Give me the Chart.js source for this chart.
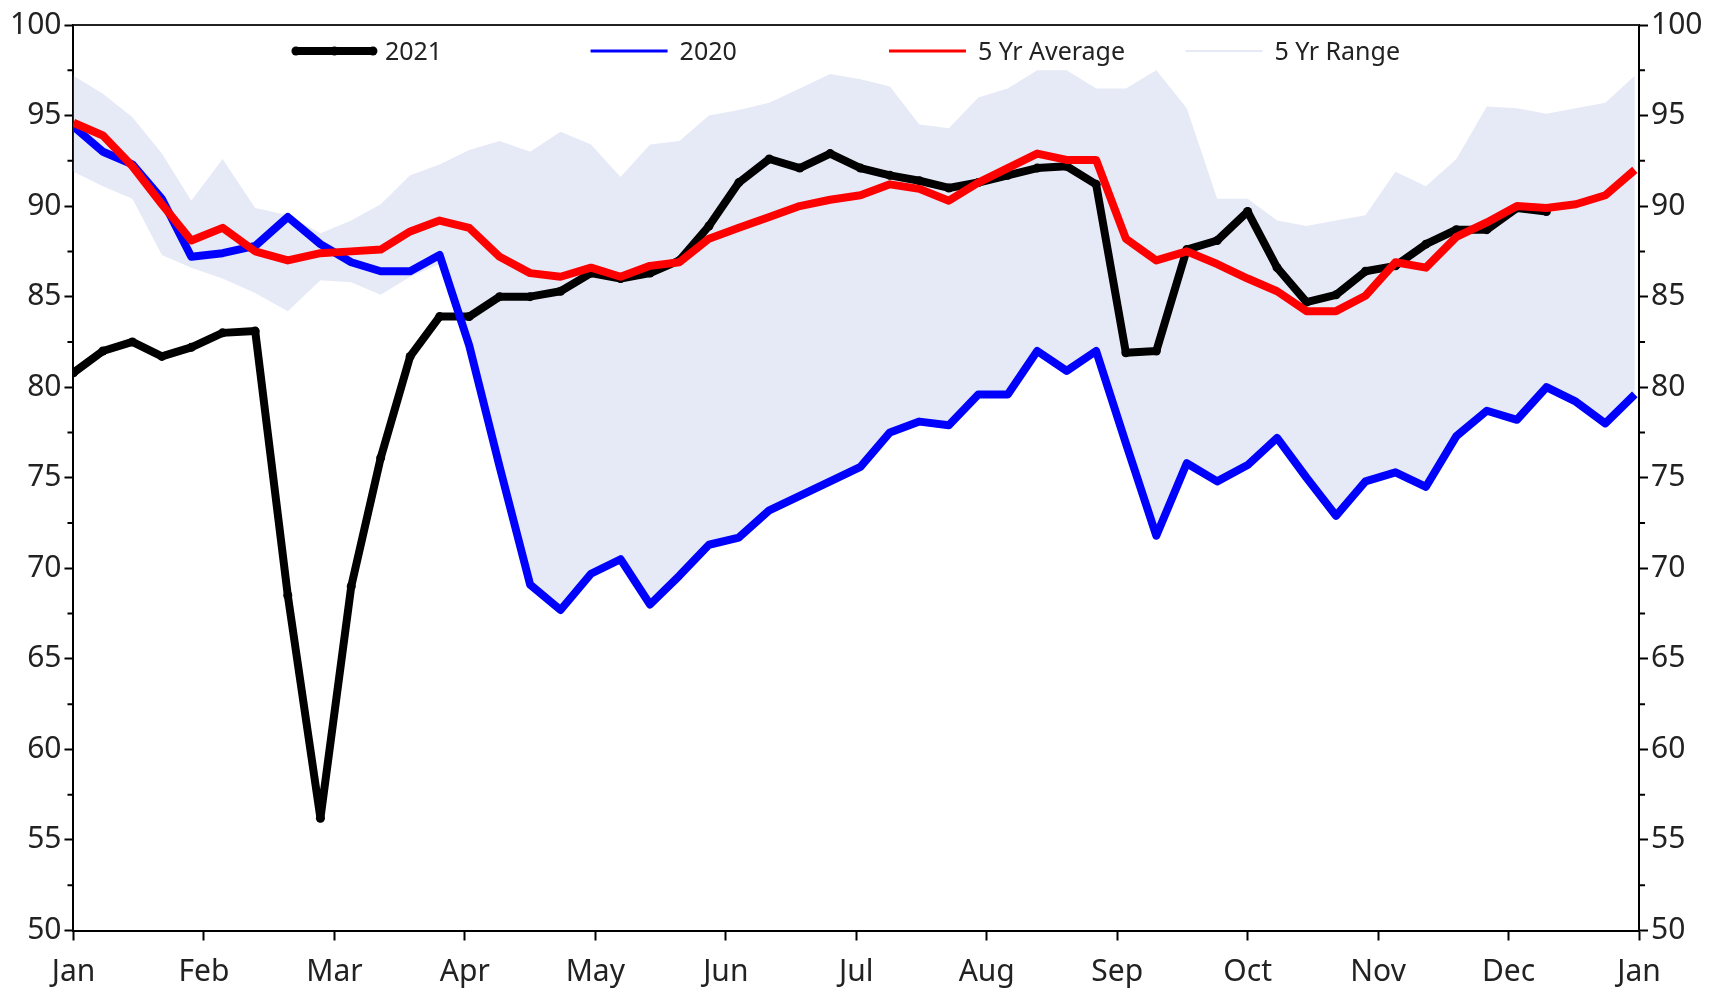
<!DOCTYPE html>
<html>
<head>
<meta charset="utf-8">
<title>2021 vs 2020 vs 5 Yr</title>
<script src="https://cdn.jsdelivr.net/npm/chart.js@4.4.1/dist/chart.umd.min.js"></script>
<style>
  html, body { margin: 0; padding: 0; background: #ffffff; }
  #chart { display: block; }
</style>
</head>
<body>
<canvas id="chart" width="1723" height="990"></canvas>
<script>
// x axis labels, one per month (the year wraps back to Jan)
const monthLabels = ['Jan', 'Feb', 'Mar', 'Apr', 'May', 'Jun', 'Jul', 'Aug', 'Sep', 'Oct', 'Nov', 'Dec', 'Jan'];
const daysInMonth = [31, 28, 31, 30, 31, 30, 31, 31, 30, 31, 30, 31];

// weekly values, week 0 (Jan 1) .. week 52 (Dec 31)
const values2021 = [
    80.8, 82.0, 82.5, 81.7, 82.2, 83.0, 83.1, 68.5, 56.2, 69.0,
    76.1, 81.7, 83.9, 83.9, 85.0, 85.0, 85.3, 86.3, 86.0, 86.3,
    87.0, 88.9, 91.3, 92.6, 92.1, 92.9, 92.1, 91.7, 91.4, 91.0,
    91.3, 91.7, 92.1, 92.2, 91.2, 81.9, 82.0, 87.6, 88.1, 89.7,
    86.6, 84.7, 85.1, 86.4, 86.7, 87.9, 88.7, 88.7, 89.9, 89.7,
    null, null, null
];
const values2020 = [
    94.4, 93.0, 92.3, 90.4, 87.2, 87.4, 87.8, 89.4, 87.9, 86.9,
    86.4, 86.4, 87.3, 82.3, 75.6, 69.1, 67.7, 69.7, 70.5, 68.0,
    69.6, 71.3, 71.7, 73.2, 74.0, 74.8, 75.6, 77.5, 78.1, 77.9,
    79.6, 79.6, 82.0, 80.9, 82.0, 76.9, 71.8, 75.8, 74.8, 75.7,
    77.2, 75.0, 72.9, 74.8, 75.3, 74.5, 77.3, 78.7, 78.2, 80.0,
    79.2, 78.0, 79.6
];
const avg5yr = [
    94.6, 93.9, 92.2, 90.1, 88.1, 88.8, 87.5, 87.0, 87.4, 87.5,
    87.6, 88.6, 89.2, 88.8, 87.2, 86.3, 86.1, 86.6, 86.1, 86.7,
    86.9, 88.2, 88.8, 89.4, 90.0, 90.35, 90.6, 91.2, 90.95, 90.3,
    91.3, 92.1, 92.9, 92.55, 92.55, 88.2, 87.0, 87.5, 86.8, 86.0,
    85.3, 84.2, 84.2, 85.05, 86.9, 86.6, 88.3, 89.1, 90.0, 89.9,
    90.1, 90.6, 92.0
];
const range5yrHigh = [
    97.2, 96.2, 94.9, 92.9, 90.3, 92.6, 89.9, 89.5, 88.5, 89.2,
    90.1, 91.7, 92.3, 93.1, 93.6, 93.0, 94.1, 93.4, 91.6, 93.4,
    93.6, 95.0, 95.3, 95.7, 96.5, 97.3, 97.0, 96.6, 94.5, 94.3,
    96.0, 96.5, 97.5, 97.5, 96.5, 96.5, 97.5, 95.4, 90.4, 90.4,
    89.2, 88.9, 89.2, 89.5, 91.9, 91.1, 92.6, 95.5, 95.4, 95.1,
    95.4, 95.7, 97.2
];
const range5yrLow = [
    91.9, 91.1, 90.4, 87.3, 86.6, 86.0, 85.2, 84.2, 85.9, 85.8,
    85.1, 86.1, 86.8, 82.3, 75.6, 69.1, 67.7, 69.7, 70.5, 68.0,
    69.6, 71.3, 71.7, 73.2, 74.0, 74.8, 75.6, 77.5, 78.1, 77.9,
    79.6, 79.6, 82.0, 80.9, 82.0, 76.9, 71.8, 75.8, 74.8, 75.7,
    77.2, 75.0, 72.9, 74.8, 75.3, 74.5, 77.3, 78.7, 78.2, 80.0,
    79.2, 78.0, 79.6
];

const rangeColor = '#e6e9f6';
const textColor = '#222222';
const fontFamily = '"Noto Sans", "Open Sans", sans-serif';

// week index -> position on the month axis (month number + fraction of that month)
function weekToMonthPos(week) {
    let day = week * 7;
    let m = 0;
    while (m < daysInMonth.length - 1 && day >= daysInMonth[m]) {
        day -= daysInMonth[m];
        m++;
    }
    return m + day / daysInMonth[m];
}

function toPoints(values) {
    return values.map((v, i) => ({ x: weekToMonthPos(i), y: v }));
}

// legend entries drawn inside the plot, one column each
const legendEntries = [
    { label: '2021', color: '#000000', lineWidth: 8, markers: true, col: 0.1421 },
    { label: '2020', color: '#0000ff', lineWidth: 3, markers: false, col: 0.3303 },
    { label: '5 Yr Average', color: '#ff0000', lineWidth: 3, markers: false, col: 0.5209 },
    { label: '5 Yr Range', color: rangeColor, lineWidth: 2, markers: false, col: 0.7103 }
];

const insideLegend = {
    id: 'insideLegend',
    afterDraw(chart) {
        const { ctx, chartArea } = chart;
        const width = chartArea.right - chartArea.left;
        const lineY = chartArea.top + 26;
        ctx.save();
        ctx.font = '25px ' + fontFamily;
        ctx.textBaseline = 'middle';
        ctx.textAlign = 'left';
        legendEntries.forEach(entry => {
            const x0 = chartArea.left + entry.col * width;
            ctx.strokeStyle = entry.color;
            ctx.lineWidth = entry.lineWidth;
            ctx.beginPath();
            ctx.moveTo(x0, lineY);
            ctx.lineTo(x0 + 77, lineY);
            ctx.stroke();
            if (entry.markers) {
                ctx.fillStyle = entry.color;
                [0, 38.5, 77].forEach(dx => {
                    ctx.beginPath();
                    ctx.arc(x0 + dx, lineY, 4.5, 0, Math.PI * 2);
                    ctx.fill();
                });
            }
            ctx.fillStyle = textColor;
            ctx.fillText(entry.label, x0 + 89, lineY + 2);
        });
        ctx.restore();
    }
};

// top frame line and the short minor ticks on both y axes
const axisExtras = {
    id: 'axisExtras',
    afterDraw(chart) {
        const { ctx, chartArea, scales } = chart;
        ctx.save();
        ctx.strokeStyle = '#222222';
        ctx.lineWidth = 2;
        ctx.beginPath();
        ctx.moveTo(chartArea.left, chartArea.top);
        ctx.lineTo(chartArea.right, chartArea.top);
        ctx.stroke();

        ctx.strokeStyle = '#000000';
        ctx.beginPath();
        [scales.y, scales.y2].forEach(scale => {
            const left = scale.position === 'left';
            const edge = left ? chartArea.left : chartArea.right;
            const dir = left ? -1 : 1;
            for (let v = scale.min + 2.5; v < scale.max; v += 5) {
                const py = scale.getPixelForValue(v);
                ctx.moveTo(edge, py);
                ctx.lineTo(edge + dir * 6, py);
            }
        });
        ctx.stroke();
        ctx.restore();
    }
};

function yAxis(position) {
    return {
        position: position,
        min: 50,
        max: 100,
        ticks: {
            stepSize: 5,
            padding: 3,
            color: textColor,
            font: { family: fontFamily, size: 30 }
        },
        grid: {
            drawOnChartArea: false,
            drawTicks: true,
            tickLength: 9,
            tickWidth: 2,
            tickColor: '#000000'
        },
        border: { display: true, color: '#000000', width: 2 }
    };
}

new Chart(document.getElementById('chart'), {
    type: 'line',
    data: {
        datasets: [
            {
                label: '5 Yr Average',
                data: toPoints(avg5yr),
                borderColor: '#ff0000',
                borderWidth: 8,
                pointRadius: 0,
                order: 0
            },
            {
                label: '2020',
                data: toPoints(values2020),
                borderColor: '#0000ff',
                borderWidth: 8,
                pointRadius: 0,
                order: 1
            },
            {
                label: '2021',
                data: toPoints(values2021),
                borderColor: '#000000',
                borderWidth: 8,
                pointRadius: 4.5,
                pointBackgroundColor: '#000000',
                pointBorderWidth: 0,
                order: 2
            },
            {
                label: '5 Yr Range',
                data: toPoints(range5yrHigh),
                borderColor: 'transparent',
                borderWidth: 1,
                backgroundColor: rangeColor,
                pointRadius: 0,
                fill: '+1',
                order: 3
            },
            {
                label: '5 Yr Range low',
                data: toPoints(range5yrLow),
                borderColor: 'transparent',
                borderWidth: 1,
                pointRadius: 0,
                fill: false,
                order: 4
            }
        ]
    },
    options: {
        responsive: false,
        animation: false,
        events: [],
        layout: { padding: { left: 7, right: 17.5, top: 25, bottom: 0 } },
        elements: {
            line: { tension: 0, borderJoinStyle: 'round', borderCapStyle: 'butt' }
        },
        datasets: { line: { clip: 0 } },
        plugins: {
            legend: { display: false },
            tooltip: { enabled: false }
        },
        scales: {
            x: {
                type: 'linear',
                min: 0,
                max: 12,
                ticks: {
                    stepSize: 1,
                    autoSkip: false,
                    maxRotation: 0,
                    padding: 14,
                    color: textColor,
                    font: { family: fontFamily, size: 30 },
                    callback: value => monthLabels[value]
                },
                grid: {
                    drawOnChartArea: false,
                    drawTicks: true,
                    tickLength: 10,
                    tickWidth: 2,
                    tickColor: '#000000'
                },
                border: { display: true, color: '#000000', width: 2 },
                // keep the plot bottom where the reference has it
                afterFit: scale => { scale.height = 59.5; }
            },
            y: yAxis('left'),
            y2: yAxis('right')
        }
    },
    plugins: [insideLegend, axisExtras]
});
</script>
</body>
</html>
